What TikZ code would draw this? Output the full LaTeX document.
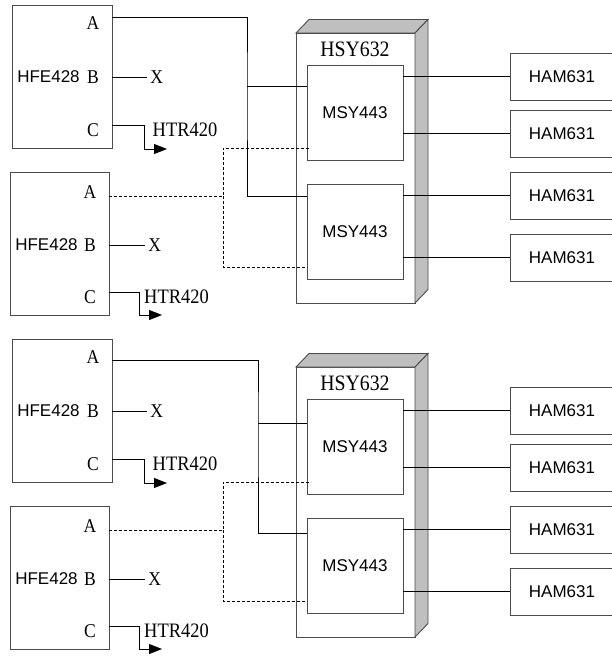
\documentclass[tikz,border=0pt]{standalone}
\usepackage{fontspec}
\setsansfont{Liberation Sans}
\newfontfamily\narrowserif[FakeStretch=0.9]{Liberation Serif}
\usetikzlibrary{positioning,arrows.meta}

\begin{document}
\begin{tikzpicture}[
  x=1pt, y=-1pt, >={Triangle[length=13pt,width=10pt]},
  line width=0.9pt,
  boxbase/.style={draw=black!70, inner sep=0pt, outer sep=0pt},
  hfe/.style={boxbase, minimum width=100pt, minimum height=143pt},
  msy/.style={boxbase, fill=white, minimum width=96pt, minimum height=95pt, font=\sffamily\fontsize{17}{17}\selectfont},
  ham/.style={boxbase, minimum width=104pt, minimum height=47pt, font=\sffamily\fontsize{17}{17}\selectfont},
  chassis/.style={boxbase, fill=white, minimum width=119pt, minimum height=270pt},
  side/.style={draw=black!70, fill=gray!50},
  pin/.style={inner sep=0pt, font=\narrowserif\fontsize{19.5}{19.5}\selectfont},
  outlab/.style={inner sep=0pt, font=\narrowserif\fontsize{20.5}{20.5}\selectfont},
  hsylab/.style={inner sep=0pt, font=\narrowserif\fontsize{22}{22}\selectfont},
  unitname/.style={inner sep=0pt, font=\sffamily\fontsize{17}{17}\selectfont},
  dotlink/.style={dash pattern=on 3pt off 2pt},
]
  \useasboundingbox (0,0) rectangle (611,658);
  \foreach \k/\oy/\ax/\ay/\by/\cy in {u/0/247/17/86/196, d/334/258/26/89/199} {
  \begin{scope}[shift={(0,\oy)}]
    % HSY632 chassis with its shaded faces
    \node[chassis] (s\k) at (355.5,168) {};
    \filldraw[side] (s\k.north west) -- ++(13,-13.5) -- ++(119,0) -- (s\k.north east) -- cycle;
    \filldraw[side] (s\k.north east) -- ++(13,-13.5) -- ++(0,270) -- (s\k.south east) -- cycle;
    \node[msy] (m\k1) at (355,112.5) {MSY443};
    \node[msy] (m\k2) at (355,231.5) {MSY443};
    \node[hsylab, above=8pt of m\k1] (t\k) {HSY632};

    % HAM631 units
    \node[ham] (h\k1) at (562,76.5) {HAM631};
    \node[ham, below=10pt of h\k1] (h\k2) {HAM631};
    \node[ham, below=15pt of h\k2] (h\k3) {HAM631};
    \node[ham, below=15pt of h\k3] (h\k4) {HAM631};
    \draw (h\k1.west) -- (h\k1.west -| m\k1.east);
    \draw (h\k2.west) -- (h\k2.west -| m\k1.east);
    \draw (h\k3.west) -- (h\k3.west -| m\k2.east);
    \draw (h\k4.west) -- (h\k4.west -| m\k2.east);

    % HFE428 units
    \node[hfe] (f\k1) at (62,76.5) {};
    \node[hfe, minimum width=99pt] (f\k2) at (59.5,243.5) {};
    \node[unitname] (n\k1) at (48.5,77) {HFE428};
    \node[unitname] (n\k2) at (46.5,245) {HFE428};
    \node[pin] (a\k1) at (93,23) {A};
    \node[pin] (b\k1) at (93,77) {B};
    \node[pin] (c\k1) at (93,130) {C};
    \node[pin] (a\k2) at (90,192) {A};
    \node[pin] (b\k2) at (90,245) {B};
    \node[pin] (c\k2) at (90,297) {C};

    % A outputs
    \coordinate (j\k) at (\ax,\by);
    \draw (f\k1.east |- 0,\ay) -| (j\k) |- (m\k2.west |- 0,\cy);
    \draw (j\k) -- (m\k1.west |- j\k);
    \coordinate (g\k) at (223,196);
    \draw[dotlink] (f\k2.east |- g\k) -- (g\k) |- ([xshift=4pt]m\k1.west |- 0,148);
    \draw[dotlink] (g\k) |- (m\k2.west |- 0,267);

    % B and C outputs
    \draw (f\k1.east |- b\k1) -- ++(35,0) node[pin, right=3pt] (x\k1) {X};
    \draw (f\k2.east |- b\k2) -- ++(36,0) node[pin, right=3pt] (x\k2) {X};
    \draw[->] (f\k1.east |- 0,125) -| (144,149) -- ++(23,0);
    \draw[->] (f\k2.east |- 0,292) -| (139,315) -- ++(23,0);
    \node[outlab] (r\k1) at (185,130) {HTR420};
    \node[outlab] (r\k2) at (176.5,297) {HTR420};
  \end{scope}
  }
\end{tikzpicture}
\end{document}
